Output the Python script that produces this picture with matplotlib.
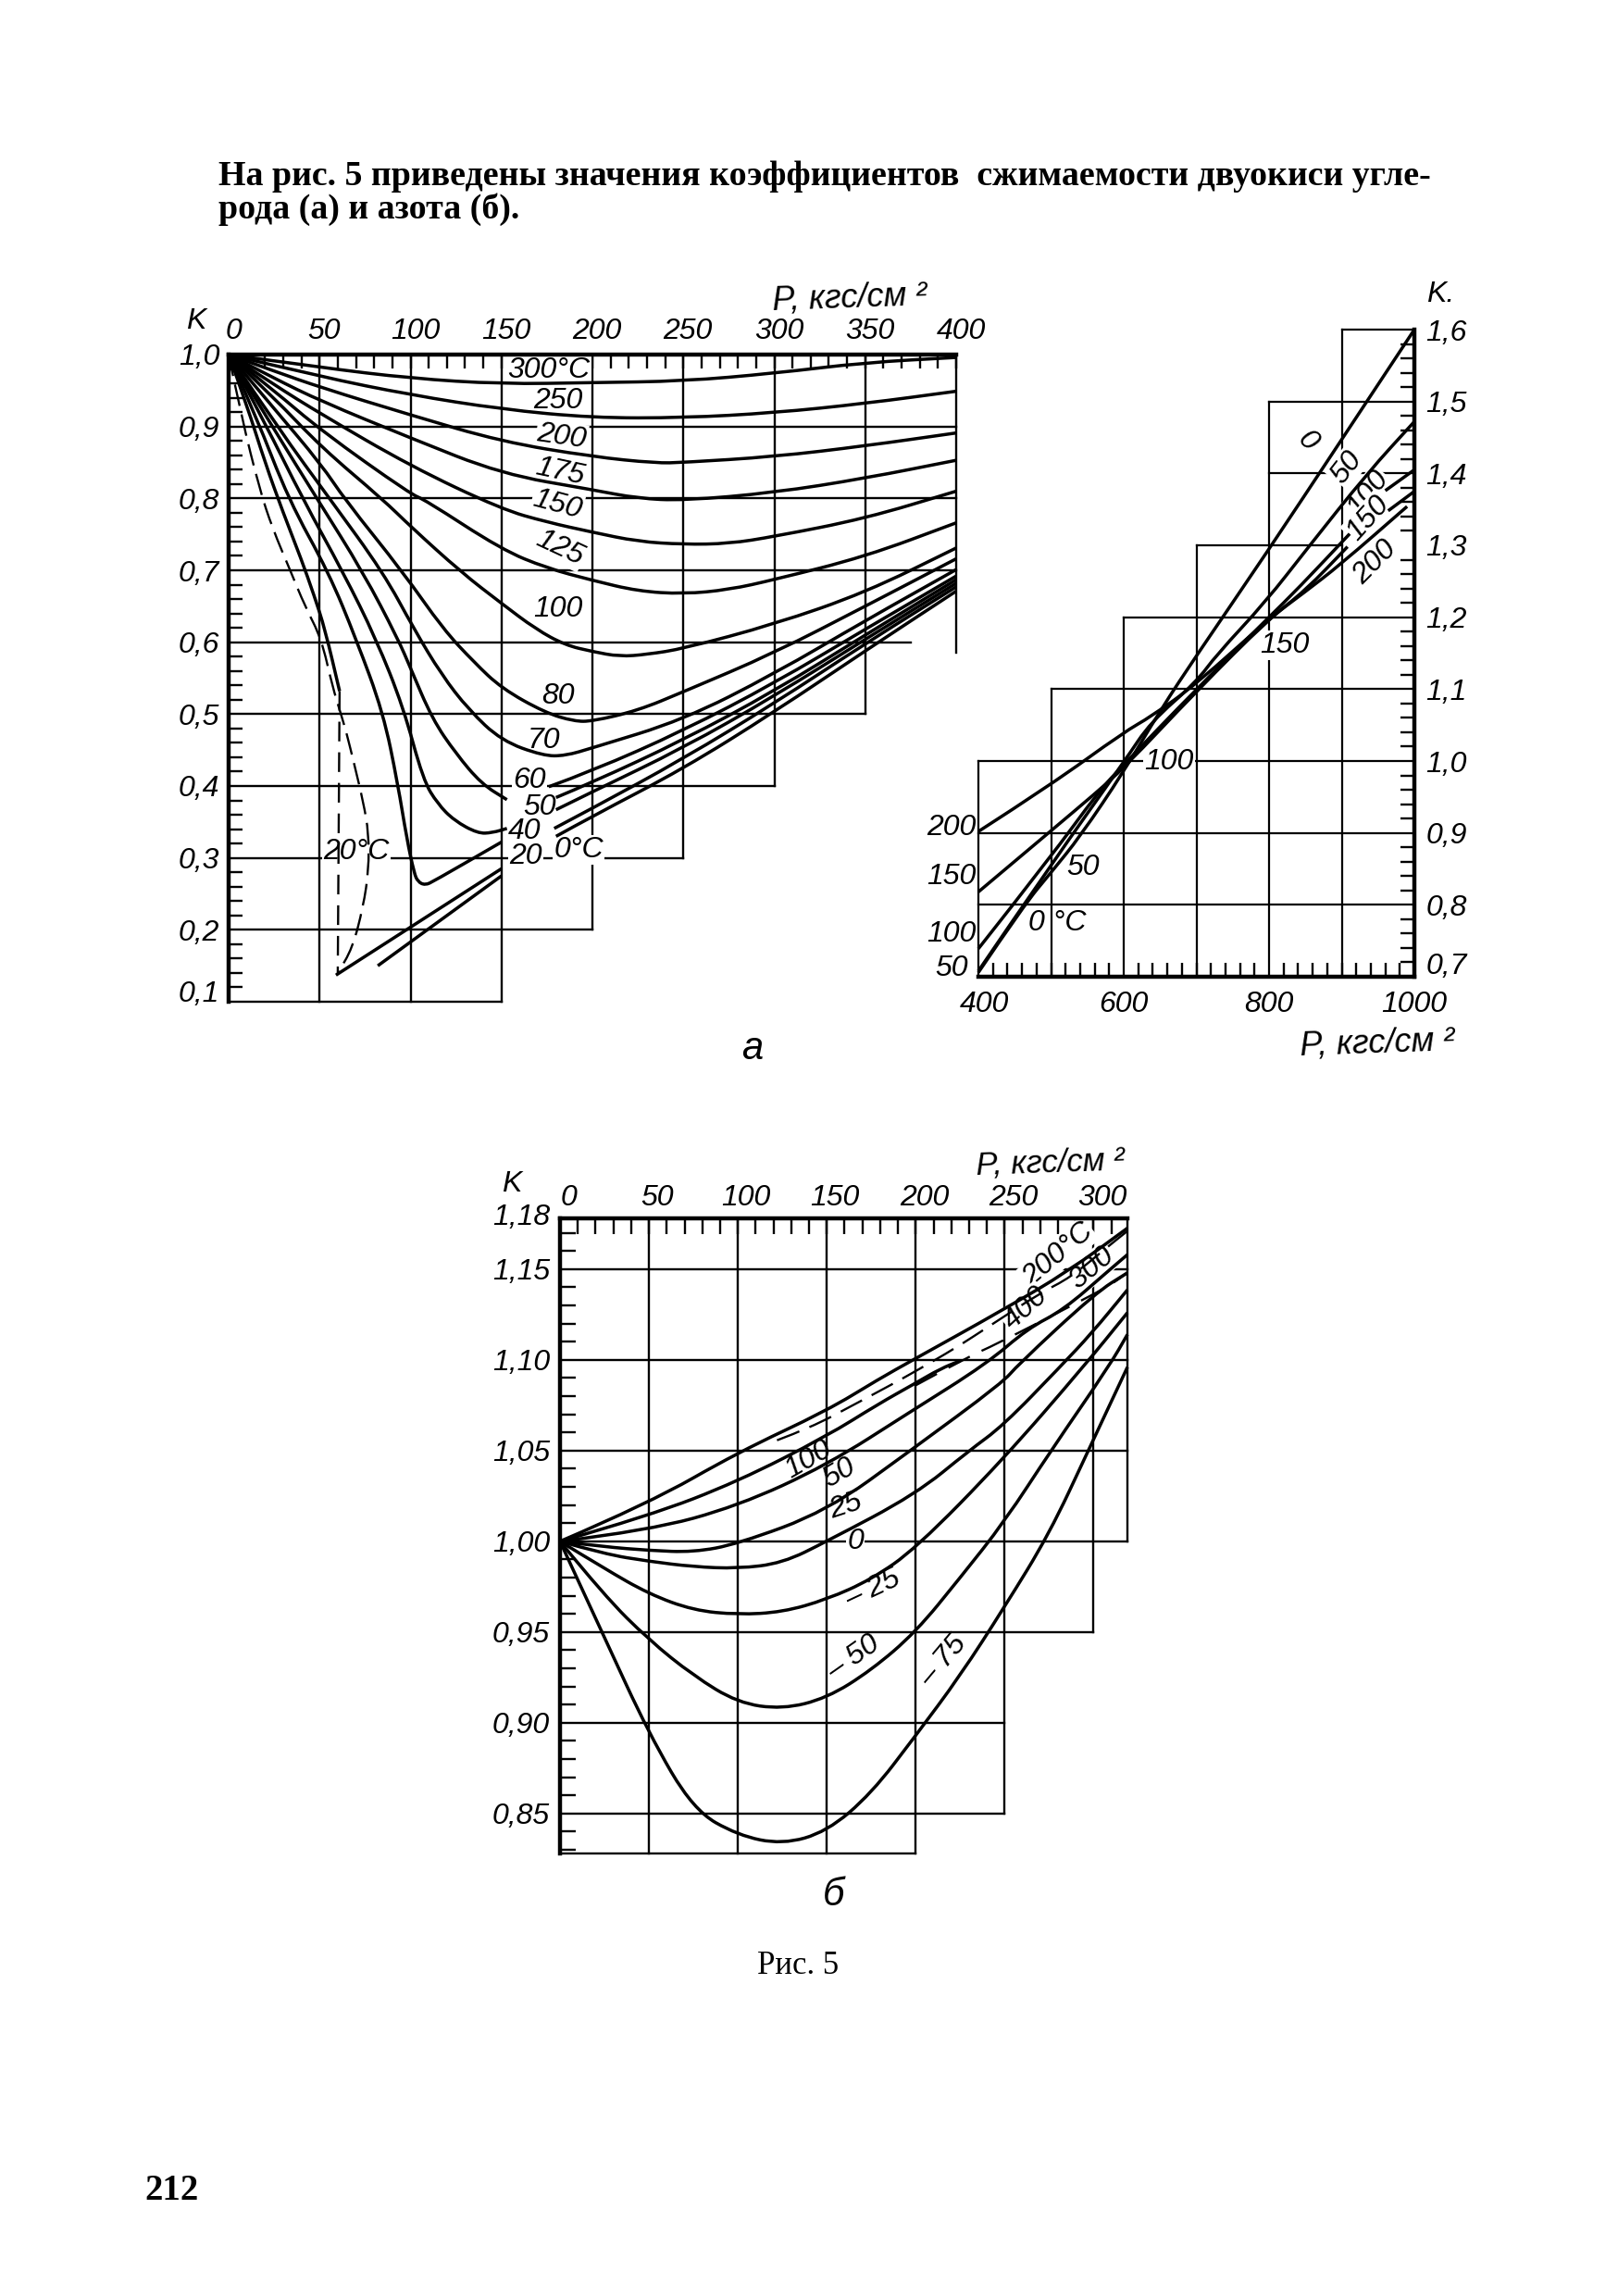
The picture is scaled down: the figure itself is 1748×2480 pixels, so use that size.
#!/usr/bin/env python3
# -*- coding: utf-8 -*-
"""Compressibility factors of CO2 (a) and nitrogen (b), book page 212."""

import matplotlib

matplotlib.use("Agg")
import matplotlib.pyplot as plt
from matplotlib.patches import PathPatch
from matplotlib.path import Path
from matplotlib.transforms import ScaledTranslation

W, H = 1748, 2480
HAND = ['Liberation Sans Narrow', 'Liberation Sans', 'DejaVu Sans']
SERIF = ['Liberation Serif', 'DejaVu Serif']
TICK = 23

# --- chart a, 0..400 ---
A_P_TICKS = [0, 50, 100, 150, 200, 250, 300, 350, 400]
A_P_LABELS = ['0', '50', '100', '150', '200', '250', '300', '350', '400']
A_K_TICKS = [1.0, 0.9, 0.8, 0.7, 0.6, 0.5, 0.4, 0.3, 0.2, 0.1]
A_K_LABELS = ['1,0', '0,9', '0,8', '0,7', '0,6', '0,5', '0,4', '0,3', '0,2', '0,1']
A_GRID_K = [0.9, 0.8, 0.7, 0.6, 0.5, 0.4, 0.3, 0.2, 0.1]
A_GRID_K_END = [400, 400, 400, 375, 350, 300, 250, 200, 150]
A_GRID_P = [50, 100, 150, 200, 250, 300, 350, 400]
A_GRID_P_END = [0.1, 0.1, 0.1, 0.2, 0.3, 0.4, 0.5, 0.585]

T300_P = [0, 51, 100, 150, 200, 250, 300, 350, 400]
T300_K = [1, .982, .967, .959, .961, .963, .974, .989, .996]
T250_P = [0, 51, 100, 150, 200, 250, 300, 350, 400]
T250_K = [1, .969, .944, .924, .912, .912, .919, .932, .949]
T200_P = [0, 25, 51, 100, 150, 200, 235, 250, 300, 350, 400]
T200_K = [1, .977, .954, .916, .879, .858, .849, .850, .858, .873, .891]
T175_P = [0, 25, 51, 100, 150, 200, 225, 250, 300, 350, 400]
T175_K = [1, .967, .935, .884, .834, .812, .800, .797, .808, .828, .853]
T150_P = [0, 25, 51, 100, 150, 175, 200, 225, 250, 275, 300, 350, 400]
T150_K = [1, .958, .917, .845, .785, .767, .753, .740, .736, .737, .747, .772, .810]
T125_P = [0, 25, 51, 100, 108, 150, 175, 200, 225, 250, 275, 300, 350, 400]
T125_K = [1, .950, .894, .806, .798, .729, .703, .686, .671, .667, .673, .687, .719, .766]
T100_P = [0, 25, 51, 85, 100, 128, 150, 169, 185, 200, 215, 230, 250, 300, 350, 400]
T100_K = [1, .940, .871, .798, .761, .697, .654, .618, .596, .587, .580, .583, .591, .625, .669, .731]
T80_P = [0, 25, 51, 64, 96, 118, 135, 150, 174, 190, 200, 225, 250, 300, 350, 400]
T80_K = [1, .925, .847, .798, .697, .618, .572, .536, .502, .490, .490, .505, .531, .585, .650, .716]
T70_P = [0, 28, 56, 85, 102, 117, 132, 150, 173, 185, 200, 250, 300, 350, 400]
T70_K = [1, .895, .798, .697, .618, .555, .506, .463, .442, .442, .453, .492, .556, .630, .701]
T60_LEFT_P = [0, 24, 49, 74, 93, 100, 112, 125, 139, 153]
T60_LEFT_K = [1, .900, .798, .697, .605, .564, .493, .445, .403, .381]
T60_RIGHT_P = [176, 200, 250, 300, 350, 400]
T60_RIGHT_K = [.399, .421, .477, .543, .618, .692]
T50_LEFT_P = [0, 20, 41, 63, 81, 96, 107, 115, 124, 137, 145, 153]
T50_LEFT_K = [1, .905, .798, .697, .605, .510, .408, .375, .352, .334, .335, .341]
T50_RIGHT_P = [180, 200, 250, 300, 350, 400]
T50_RIGHT_K = [.384, .405, .464, .532, .610, .687]
T40_LEFT_P = [0, 15, 33, 55, 70, 85, 93, 98, 102, 104, 108, 113, 150]
T40_LEFT_K = [1, .915, .798, .697, .605, .502, .403, .326, .279, .267, .262, .268, .322]
T40_RIGHT_P = [180, 200, 250, 300, 350, 400]
T40_RIGHT_K = [.367, .392, .453, .525, .604, .682]
T20_LEFT_P = [59, 150]
T20_LEFT_K = [.137, .285]
T20_RIGHT_P = [179, 200, 250, 300, 350, 400]
T20_RIGHT_K = [.341, .369, .438, .515, .598, .677]
T0_LEFT_P = [82, 150]
T0_LEFT_K = [.150, .275]
T0_RIGHT_P = [180, 200, 250, 300, 350, 400]
T0_RIGHT_K = [.330, .358, .424, .503, .588, .671]
# steep solid branch and the two dashed boundary curves at the left
FAN_P = [0, 10, 20, 30, 40, 47, 53, 61]
FAN_K = [1, .930, .850, .780, .715, .665, .618, .532]
DASH_V_P = [61, 60]
DASH_V_K = [.532, .140]
DASH_P = [0, 7, 17, 24, 34, 42, 51, 57, 62, 65, 69, 74, 77, 77, 74, 68, 60]
DASH_K = [1, .914, .813, .759, .699, .650, .605, .539, .498, .472, .431, .378, .335, .283, .232, .174, .140]

# --- chart a, 400..1000 ---
C_P_TICKS = [400, 600, 800, 1000]
C_P_LABELS = ['400', '600', '800', '1000']
C_K_TICKS = [1.6, 1.5, 1.4, 1.3, 1.2, 1.1, 1.0, 0.9, 0.8, 0.7]
C_K_LABELS = ['1,6', '1,5', '1,4', '1,3', '1,2', '1,1', '1,0', '0,9', '0,8', '0,7']
C_GRID_K = [0.8, 0.9, 1.0, 1.1, 1.2, 1.3, 1.4, 1.5, 1.6]
C_GRID_K_START = [400, 400, 400, 500, 600, 700, 800, 800, 900]
C_GRID_K_END = [1000, 1000, 1000, 1000, 1000, 900, 1000, 1000, 1000]
C_GRID_P = [400, 500, 600, 700, 800, 900]
C_GRID_P_END = [1.0, 1.1, 1.2, 1.3, 1.5, 1.6]
C0_P = [400, 463, 500, 540, 600, 650, 701, 797, 896, 1000]
C0_K = [.706, .800, .845, .895, .985, 1.07, 1.148, 1.29, 1.441, 1.6]
C50_P = [400, 500, 603, 637, 700, 728, 795, 853, 935, 1000]
C50_K = [.708, .856, 1.0025, 1.054, 1.11, 1.148, 1.221, 1.296, 1.40, 1.472]
C100_P = [400, 500, 565, 600, 700, 800, 841, 911]
C100_K = [.739, .867, .957, .995, 1.10, 1.20, 1.241, 1.316]
C100_END_P = [960, 1000]
C100_END_K = [1.376, 1.405]
C150_P = [400, 500, 561, 600, 700, 800, 850, 908]
C150_K = [.818, .903, .955, .99, 1.097, 1.198, 1.237, 1.298]
C150_END_P = [964, 1000]
C150_END_K = [1.348, 1.375]
C200_P = [400, 500, 600, 638, 700, 800, 848, 898, 990]
C200_K = [.902, .967, 1.04, 1.062, 1.107, 1.198, 1.234, 1.273, 1.354]
C_LEFT_LABELS = ['200', '150', '100', '50']

# --- chart b, nitrogen ---
B_P_TICKS = [0, 50, 100, 150, 200, 250, 300]
B_P_LABELS = ['0', '50', '100', '150', '200', '250', '300']
B_K_TICKS = [1.178, 1.15, 1.10, 1.05, 1.00, 0.95, 0.90, 0.85]
B_K_LABELS = ['1,18', '1,15', '1,10', '1,05', '1,00', '0,95', '0,90', '0,85']
B_GRID_K = [1.15, 1.10, 1.05, 1.00, 0.95, 0.90, 0.85, 0.828]
B_GRID_K_END = [319, 319, 319, 319, 300, 250, 250, 200]
B_GRID_P = [50, 100, 150, 200, 250, 300, 319]
B_GRID_P_END = [0.828, 0.828, 0.828, 0.828, 0.85, 0.95, 1.0]
N200_P = [0, 50, 100, 150, 179, 199, 249, 286, 319]
N200_K = [1, 1.021, 1.049, 1.072, 1.0893, 1.1003, 1.1275, 1.149, 1.1726]
N300_P = [122, 141, 165, 187, 201, 222, 242, 270, 287, 308, 319]
N300_K = [1.0557, 1.0627, 1.0752, 1.0867, 1.0944, 1.1063, 1.119, 1.1369, 1.1454, 1.1624, 1.171]
N400_P = [200, 230, 244, 293, 309, 319]
N400_K = [1.086, 1.102, 1.108, 1.1326, 1.141, 1.148]
N100_P = [0, 50, 100, 150, 179, 199, 214, 225]
N100_K = [1, 1.014, 1.033, 1.058, 1.0757, 1.0867, 1.0952, 1.0995]
N50_P = [0, 50, 100, 150, 197, 240, 263, 283, 308, 319]
N50_K = [1, 1.006, 1.0195, 1.042, 1.0714, 1.098, 1.1173, 1.1275, 1.1488, 1.158]
N25_P = [0, 25, 50, 75, 100, 150, 197, 249, 257, 301, 319]
N25_K = [1, .997, .995, .994, .9986, 1.0167, 1.05, 1.0876, 1.0969, 1.1369, 1.148]
N0_P = [0, 25, 50, 75, 100, 125, 150, 200, 230, 249, 281, 299, 319]
N0_K = [1, .993, .989, .986, .985, .988, 1.0, 1.026, 1.05, 1.0637, 1.096, 1.1148, 1.1386]
NM25_P = [0, 25, 50, 75, 100, 125, 150, 175, 200, 249, 295, 319]
NM25_K = [1, .985, .971, .962, .9596, .961, .968, .979, .996, 1.045, 1.097, 1.126]
NM50_P = [0, 25, 50, 75, 100, 125, 150, 175, 200, 225, 250, 276, 309, 319]
NM50_K = [1, .970, .9457, .926, .911, .9075, .9136, .929, .95, .98, 1.011, 1.05, 1.097, 1.114]
NM75_P = [0, 25, 50, 75, 100, 125, 150, 175, 200, 225, 250, 275, 297, 319]
NM75_K = [1, .947, .894, .852, .838, .833, .84, .861, .893, .926, .964, 1.004, 1.05, 1.096]

P_TITLE = 'P, кгс/см ²'
BODY_1 = 'На рис. 5 приведены значения коэффициентов  сжимаемости двуокиси угле-'
BODY_2 = 'рода (а) и азота (б).'

plt.rcParams['font.family'] = HAND
plt.rcParams['font.style'] = 'italic'
fig = plt.figure(figsize=(W / 100, H / 100), dpi=100, facecolor='white')


def px_axes(left, top, right, bottom, xlim, ylim):
    ax = fig.add_axes([left / W, 1 - bottom / H, (right - left) / W, (bottom - top) / H])
    ax.set_xlim(*xlim)
    ax.set_ylim(*ylim)
    ax.patch.set_alpha(0)
    for s in ax.spines.values():
        s.set_visible(False)
    ax.tick_params(which='both', direction='in', color='black')
    return ax


def put(ax, x, y, text, size=TICK, rot=0, box=False, **kw):
    """Text placed in page pixels, its white box hides the grid but not the curves"""
    bbox = dict(fc='white', ec='none', pad=1.0) if box else None
    kw.setdefault('family', HAND)
    kw.setdefault('style', 'italic')
    ax.text(x / W, 1 - y / H, text, transform=fig.transFigure, fontsize=size, rotation=rot,
            ha='center', va='center', bbox=bbox, zorder=2, color='black',
            rotation_mode='anchor', clip_on=False, **kw)


def shift_labels(labels, dx, dy=0):
    for lbl in labels:
        lbl.set_transform(lbl.get_transform() + ScaledTranslation(dx / 100, dy / 100, fig.dpi_scale_trans))


def curve(ax, p, k, lw=2.5, ls='solid'):
    # quadratic pieces with the read points as control points, so no extra values
    pts = list(zip(p, k))
    verts = [pts[0]]
    codes = [Path.MOVETO]
    for i in range(1, len(pts) - 1):
        mid = ((pts[i][0] + pts[i + 1][0]) / 2, (pts[i][1] + pts[i + 1][1]) / 2)
        verts += [pts[i], mid]
        codes += [Path.CURVE3, Path.CURVE3]
    verts.append(pts[-1])
    codes.append(Path.LINETO)
    ax.add_patch(PathPatch(Path(verts, codes), fill=False, edgecolor='black', lw=lw, ls=ls,
                           capstyle='butt', clip_on=False, zorder=3))


# chart a, left part
ax = px_axes(247, 383, 1033, 1082, (0, 400), (0.1, 1.0))
for s in ('top', 'left'):
    ax.spines[s].set_visible(True)
    ax.spines[s].set_linewidth(3.2)
ax.xaxis.tick_top()
ax.set_xticks(range(0, 401, 10), minor=True)
ax.set_xticks(A_P_TICKS, A_P_LABELS, fontsize=TICK)
ax.set_yticks([0.1 + 0.02 * i for i in range(46)], minor=True)
ax.set_yticks(A_K_TICKS, A_K_LABELS, fontsize=TICK)
ax.tick_params(which='both', length=11, width=1.7)
ax.tick_params(axis='x', which='major', pad=7)
ax.tick_params(axis='y', which='major', pad=7, length=0)
shift_labels(ax.get_xticklabels(), 5)
shift_labels(ax.get_yticklabels()[-1:], 0, 12)
for k, end in zip(A_GRID_K, A_GRID_K_END):
    ax.plot([0, end], [k, k], color='black', lw=1.7, zorder=1, clip_on=False)
for p, end in zip(A_GRID_P, A_GRID_P_END):
    ax.plot([p, p], [1.0, end], color='black', lw=1.7, zorder=1, clip_on=False)
for p, k in [(T300_P, T300_K), (T250_P, T250_K), (T200_P, T200_K), (T175_P, T175_K),
             (T150_P, T150_K), (T125_P, T125_K), (T100_P, T100_K), (T80_P, T80_K),
             (T70_P, T70_K), (T60_LEFT_P, T60_LEFT_K), (T60_RIGHT_P, T60_RIGHT_K),
             (T50_LEFT_P, T50_LEFT_K), (T50_RIGHT_P, T50_RIGHT_K),
             (T40_LEFT_P, T40_LEFT_K), (T40_RIGHT_P, T40_RIGHT_K),
             (T20_LEFT_P, T20_LEFT_K), (T20_RIGHT_P, T20_RIGHT_K),
             (T0_LEFT_P, T0_LEFT_K), (T0_RIGHT_P, T0_RIGHT_K), (FAN_P, FAN_K)]:
    curve(ax, p, k)
curve(ax, DASH_V_P, DASH_V_K, lw=1.7, ls=(0, (9, 5)))
curve(ax, DASH_P, DASH_K, lw=1.7, ls=(0, (10, 4)))

put(ax, 212, 347, 'K')
put(ax, 918, 322, P_TITLE, size=26, rot=2)
put(ax, 593, 400, '300°C', box=True)
put(ax, 603, 433, '250', box=True)
put(ax, 607, 472, '200', rot=-8, box=True)
put(ax, 605, 510, '175', rot=-12, box=True)
put(ax, 602, 545, '150', rot=-15, box=True)
put(ax, 605, 592, '125', rot=-25, box=True)
put(ax, 603, 658, '100')
put(ax, 603, 752, '80')
put(ax, 587, 800, '70')
put(ax, 572, 843, '60', box=True)
put(ax, 583, 872, '50', box=True)
put(ax, 567, 898, '40', box=True)
put(ax, 568, 925, '20', box=True)
put(ax, 625, 918, '0°C', box=True)
put(ax, 385, 920, '20°C', box=True)
put(ax, 813, 1133, 'a', size=30, family=['Liberation Sans', 'DejaVu Sans'])

# chart a, right part
ax = px_axes(1057, 356, 1528, 1055, (400, 1000), (0.7, 1.6))
for s in ('bottom', 'right'):
    ax.spines[s].set_visible(True)
    ax.spines[s].set_linewidth(3.2)
ax.yaxis.tick_right()
ax.set_xticks(range(400, 1001, 20), minor=True)
ax.set_xticks(C_P_TICKS, C_P_LABELS, fontsize=TICK)
ax.set_yticks([0.7 + 0.02 * i for i in range(46)], minor=True)
ax.set_yticks(C_K_TICKS, C_K_LABELS, fontsize=TICK)
ax.tick_params(which='both', length=11, width=1.7)
ax.tick_params(axis='x', which='major', pad=11, length=0)
ax.tick_params(axis='y', which='major', pad=9, length=0)
shift_labels(ax.get_xticklabels()[:1], 6)
shift_labels(ax.get_yticklabels()[-1:], 0, 14)
for k, start, end in zip(C_GRID_K, C_GRID_K_START, C_GRID_K_END):
    ax.plot([start, end], [k, k], color='black', lw=1.6, zorder=1, clip_on=False)
for p, end in zip(C_GRID_P, C_GRID_P_END):
    ax.plot([p, p], [0.7, end], color='black', lw=1.6, zorder=1, clip_on=False)
for p, k in [(C0_P, C0_K), (C50_P, C50_K), (C100_P, C100_K), (C100_END_P, C100_END_K),
             (C150_P, C150_K), (C150_END_P, C150_END_K), (C200_P, C200_K)]:
    curve(ax, p, k)
for y, txt in zip([894, 947, 1009, 1046], C_LEFT_LABELS):
    put(ax, 1028, y, txt)
put(ax, 1556, 318, 'K.')
put(ax, 1488, 1127, P_TITLE, size=26, rot=2)
put(ax, 1413, 477, '0', rot=-45)
put(ax, 1455, 505, '50', rot=52, box=True)
put(ax, 1478, 533, '100', rot=52, box=True)
put(ax, 1478, 560, '150', rot=48, box=True)
put(ax, 1485, 608, '200', rot=45, box=True)
put(ax, 1388, 697, '150', box=True)
put(ax, 1263, 823, '100', box=True)
put(ax, 1170, 937, '50', box=True)
put(ax, 1142, 997, '0 °C')

# chart b
ax = px_axes(605, 1316, 1218, 2002, (0, 319), (0.828, 1.178))
for s in ('top', 'left'):
    ax.spines[s].set_visible(True)
    ax.spines[s].set_linewidth(3.2)
ax.xaxis.tick_top()
ax.set_xticks(range(0, 311, 10), minor=True)
ax.set_xticks(B_P_TICKS, B_P_LABELS, fontsize=TICK)
ax.set_yticks([0.83 + 0.01 * i for i in range(35)], minor=True)
ax.set_yticks(B_K_TICKS, B_K_LABELS, fontsize=TICK)
ax.tick_params(which='both', length=12, width=1.7)
ax.tick_params(axis='x', which='major', pad=5)
ax.tick_params(axis='y', which='major', pad=8, length=0)
shift_labels(ax.get_xticklabels(), 9)
shift_labels(ax.get_yticklabels()[:1], 0, 5)
for k, end in zip(B_GRID_K, B_GRID_K_END):
    ax.plot([0, end], [k, k], color='black', lw=1.7, zorder=1, clip_on=False)
for p, end in zip(B_GRID_P, B_GRID_P_END):
    ax.plot([p, p], [1.178, end], color='black', lw=1.7, zorder=1, clip_on=False)
for p, k in [(N200_P, N200_K), (N100_P, N100_K), (N50_P, N50_K), (N25_P, N25_K), (N0_P, N0_K),
             (NM25_P, NM25_K), (NM50_P, NM50_K), (NM75_P, NM75_K)]:
    curve(ax, p, k)
curve(ax, N300_P, N300_K, lw=1.7, ls=(0, (11, 5)))
curve(ax, N400_P, N400_K, lw=1.7, ls=(0, (11, 6)))
put(ax, 553, 1279, 'K')
put(ax, 1135, 1256, P_TITLE, size=25, rot=2)
put(ax, 1143, 1355, '200°C', rot=40, box=True)
put(ax, 1180, 1370, '300', rot=40, box=True)
put(ax, 1108, 1413, '400', rot=42, box=True)
put(ax, 873, 1577, '100', rot=30)
put(ax, 907, 1591, '50', rot=30)
put(ax, 914, 1627, '25', rot=18)
put(ax, 924, 1665, '0', box=True)
put(ax, 943, 1717, '– 25', rot=25)
put(ax, 922, 1791, '– 50', rot=35)
put(ax, 1019, 1794, '– 75', rot=50)
put(ax, 901, 2047, 'б', size=30)

# page text
fig.text(236 / W, 1 - 190 / H, BODY_1, fontsize=27.3, family=SERIF, style='normal', weight='bold', va='center')
fig.text(236 / W, 1 - 226 / H, BODY_2, fontsize=27.3, family=SERIF, style='normal', weight='bold', va='center')
fig.text(862 / W, 1 - 2123 / H, 'Рис. 5', fontsize=25, family=SERIF, style='normal', ha='center', va='center')
fig.text(186 / W, 1 - 2366 / H, '212', fontsize=28, family=SERIF, style='normal', weight='bold', ha='center', va='center')

fig.savefig('out.png', dpi=100, facecolor='white')
